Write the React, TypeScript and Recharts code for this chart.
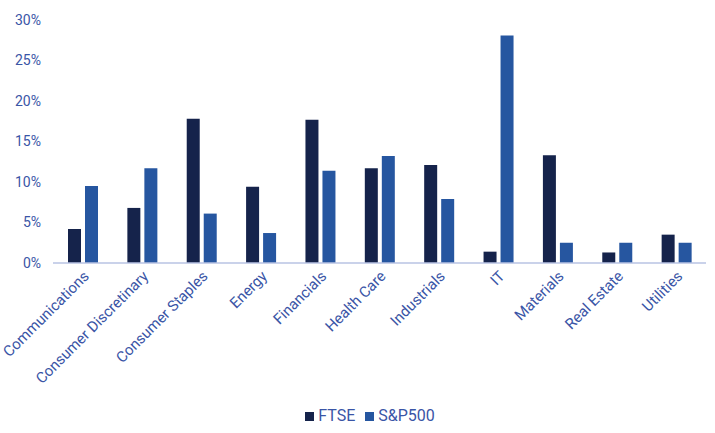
import { BarChart, Bar, XAxis, YAxis, Legend } from 'recharts'

const sectors = [
  'Communications',
  'Consumer Discretinary',
  'Consumer Staples',
  'Energy',
  'Financials',
  'Health Care',
  'Industrials',
  'IT',
  'Materials',
  'Real Estate',
  'Utilities',
]
const ftse = [4.2, 6.8, 17.8, 9.4, 17.7, 11.7, 12.1, 1.4, 13.3, 1.3, 3.5]
const sp500 = [9.5, 11.7, 6.1, 3.7, 11.4, 13.2, 7.9, 28.1, 2.5, 2.5, 2.5]
const yTicks = [0, 5, 10, 15, 20, 25, 30]

const data = sectors.map((name, i) => ({ name, ftse: ftse[i], sp500: sp500[i] }))

const TEXT = '#3a55a6'
const FONT = 'Roboto, sans-serif'

function SectorTick({ x, y, payload }: any) {
  return (
    <g transform={`translate(${x + 3},${y + 2})`}>
      <text
        transform="rotate(-45)"
        textAnchor="end"
        dy={6}
        fill={TEXT}
        fontSize={15}
        fontFamily={FONT}
      >
        {payload.value}
      </text>
    </g>
  )
}

export default function App() {
  return (
    <div style={{ position: 'absolute', left: 0, top: 0, background: '#fff' }}>
      <BarChart
        width={715}
        height={433}
        data={data}
        margin={{ top: 20, right: 9, bottom: 8, left: 0 }}
        barSize={13}
        barGap={4}
      >
        <XAxis
          dataKey="name"
          interval={0}
          height={143}
          tickLine={false}
          axisLine={{ stroke: '#b9c3e3', strokeWidth: 1.5 }}
          tick={<SectorTick />}
        />
        <YAxis
          width={53}
          domain={[0, 30]}
          ticks={yTicks}
          axisLine={false}
          tickLine={false}
          tickMargin={6}
          tickFormatter={(v: number) => `${v}%`}
          tick={{ fill: TEXT, fontSize: 14, fontFamily: FONT }}
        />
        <Legend
          verticalAlign="bottom"
          align="center"
          iconType="square"
          iconSize={9}
          wrapperStyle={{ fontFamily: FONT, fontSize: 16, paddingLeft: 22 }}
          formatter={(value: string) => <span style={{ color: TEXT }}>{value}</span>}
        />
        <Bar dataKey="ftse" name="FTSE" fill="#15234b" isAnimationActive={false} />
        <Bar dataKey="sp500" name="S&P500" fill="#2656a0" isAnimationActive={false} />
      </BarChart>
    </div>
  )
}
